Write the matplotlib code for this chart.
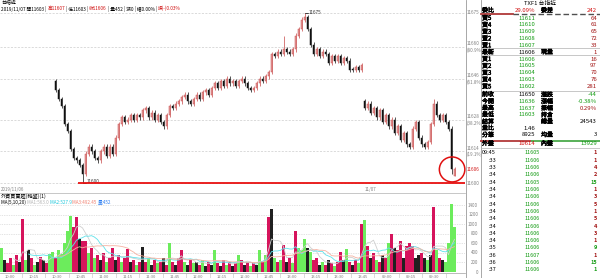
import numpy as np
import pandas as pd
import matplotlib
matplotlib.use("Agg")
import matplotlib.pyplot as plt
import matplotlib.transforms as mtransforms
import matplotlib.patheffects as pe
from matplotlib.patches import Ellipse

plt.rcParams['font.family'] = ['Noto Sans CJK TC', 'DejaVu Sans']

W, H = 600, 278

# ---- candles (one bar per 3px column), first bar index 18 ----
first_bar = 18
open_first = 11645
closes = [
    11641, 11637, 11634, 11626, 11623, 11615, 11611, 11610, 11608, 11604,
    11613, 11616, 11614, 11611, 11610, 11614, 11616, 11612, 11616, 11613,
    11620, 11626, 11629, 11627, 11628, 11630, 11628, 11630, 11629, 11632,
    11633, 11629, 11631, 11628, 11630, 11627, 11625, 11630, 11634, 11633,
    11635, 11636, 11638, 11639, 11636, 11635, 11637, 11639, 11637, 11640,
    11641, 11639, 11642, 11644, 11642, 11645, 11643, 11646, 11644, 11645,
    11643, 11645, 11646, 11644, 11642, 11641, 11642, 11644, 11646, 11645,
    11647, 11649, 11657, 11656, 11658, 11657, 11659, 11658, 11657, 11659,
    11665, 11668, 11672, 11673, 11668, 11661, 11657, 11659, 11656, 11658,
    11657, 11653, 11656, 11654, 11656, 11653, 11655, 11654, 11650, 11650,
    11651, 11650, 11652, 11633, 11635, 11631, 11633, 11629, 11632, 11627,
    11630, 11625, 11628, 11622, 11625, 11619, 11622, 11617, 11616, 11624,
    11627, 11620, 11617, 11616, 11618, 11626, 11635, 11630, 11628, 11630,
    11627, 11624, 11606, 11606,
]
open_fix = {121: 11636, 151: 11603}
high_fix = {27: 11609, 94: 11665, 101: 11675, 144: 11637, 151: 11607}
low_fix = {27: 11600, 150: 11604, 151: 11603}

# ---- volume bars (index 0..151) ----
volumes = [
    500, 250, 180, 300, 150, 350, 200, 1100, 250, 470,
    300, 150, 200, 320, 250, 180, 380, 420, 300, 450,
    380, 600, 850, 1170, 950, 1150, 700, 640, 640, 400,
    500, 300, 350, 250, 400, 200, 300, 500, 250, 350,
    200, 300, 480, 200, 250, 150, 200, 530, 200, 300,
    150, 250, 180, 200, 300, 150, 600, 200, 150, 300,
    450, 200, 150, 250, 180, 200, 150, 250, 120, 200,
    150, 450, 180, 120, 250, 150, 200, 120, 180, 350,
    250, 150, 200, 120, 180, 150, 450, 200, 350, 1140,
    1310, 300, 200, 250, 570, 200, 300, 180, 850, 500,
    450, 680, 500, 420, 250, 300, 150, 200, 150, 250,
    180, 120, 200, 420, 250, 480, 200, 150, 250, 180,
    1000, 1080, 550, 300, 400, 250, 200, 350, 300, 600,
    790, 500, 450, 650, 300, 550, 600, 550, 300, 350,
    400, 300, 250, 350, 1360, 450, 300, 250, 200, 600,
    1420, 950,
]
vol_dirs = ("gkrrgrkrgk" "rgkrkrggrg" "ggggrrkrrg" "rgrkrgrrkr" "grrkrgrkrg"
            "krgrkrgrkr" "rgkrgkrgkr" "kgrkrgrkrg" "rkrgrkgrgr" "kgrgrkrgrg"
            "ggkgrrkgrk" "rgrrkgrkrg" "rgrkrgrkrg" "rkrrkrrrkk" "rkgkrgrkgg" "gg")

fib_levels = [11675, 11660, 11646, 11628, 11614, 11600]
fib_pcts = ["", "(80.9%)", "(61.8%)", "(38.2%)", "(19.1%)", ""]
vol_ticks = [0, 200, 400, 600, 800, 1000, 1200, 1400]
time_labels = ["10:00", "10:15", "10:30", "10:45", "11:00", "11:15", "11:30", "11:45",
               "12:00", "12:15", "12:30", "12:45", "13:00", "13:15", "13:30", "13:45",
               "09:00", "09:15", "09:30"]

book_labels = ["賣5", "賣4", "賣3", "賣2", "賣1", "最新", "買1", "買2", "買3", "買4", "買5"]
book_prices = ["11611", "11610", "11609", "11608", "11607", "11606",
               "11606", "11605", "11604", "11603", "11602"]
book_sizes = ["64", "61", "65", "72", "33", "1", "16", "97", "70", "76", "281"]

stat_left = ["前收", "今開", "最高", "最低", "結算", "量比", "分筆", "外盤"]
stat_left_val = ["11650", "11636", "11637", "11603", "", "1.46", "8925", "10614"]
stat_right = ["漲跌", "漲幅", "振幅", "持倉", "總量", "", "均量", "內盤"]
stat_right_val = ["-44", "-0.38%", "0.29%", "", "24543", "", "3", "13929"]

tick_times = ["09:45", ":33", ":33", ":34", ":34", ":34", ":34", ":34", ":34",
              ":34", ":34", ":34", ":34", ":35", ":36", ":36", ":37"]
tick_prices = ["11605", "11606", "11606", "11606", "11605", "11606", "11606", "11606",
               "11606", "11606", "11606", "11606", "11606", "11606", "11607", "11606", "11606"]
tick_sizes = ["1", "1", "4", "2", "15", "1", "3", "5", "1", "5", "4", "3", "1", "9", "1", "15", "1"]
tick_side = "rrrrgrrrrrrrrgrgg"

RED = '#d01010'
DRED = '#a01010'
GREEN = '#109a10'
GRAY = '#808080'
BOLD = [pe.withStroke(linewidth=0.35, foreground='k')]

fig = plt.figure(figsize=(W / 100, H / 100), dpi=100)


def px_axes(x0, y0, x1, y1):
    return fig.add_axes([x0 / W, 1 - y1 / H, (x1 - x0) / W, (y1 - y0) / H])


# ---------------- price panel ----------------
ax = px_axes(0, 10, 465, 186)
x = np.arange(first_bar, first_bar + len(closes))
opens = [open_first] + closes[:-1]
opens = [open_fix.get(k, o) for k, o in zip(x, opens)]
highs = [high_fix.get(k, max(o, c) + 1) for k, o, c in zip(x, opens, closes)]
lows = [low_fix.get(k, min(o, c) - 1) for k, o, c in zip(x, opens, closes)]
opens = np.array(opens); closes_a = np.array(closes)
highs = np.array(highs); lows = np.array(lows)

up = closes_a > opens
edge = np.where(up, '#c84848', '#101010')
face = np.where(up, '#f0c0c0', '#101010')
ax.vlines(x, lows, highs, colors=edge, lw=0.5, zorder=2)
ax.bar(x, np.maximum(np.abs(closes_a - opens), 0.3), bottom=np.minimum(opens, closes_a),
       width=0.6, color=face, edgecolor=edge, linewidth=0.35, zorder=3)

for lv in fib_levels:
    ax.axhline(lv, color='#cccccc', lw=0.5, ls=(0, (3, 2)), zorder=0)

ax.set_xlim(-0.5, 154.5)
ax.set_ylim(11598.7, 11676.3)
ax.set_xticks([]); ax.set_yticks([])
for s in ax.spines.values():
    s.set_visible(False)

trans = mtransforms.blended_transform_factory(ax.transAxes, ax.transData)
for lv, pc in zip(fib_levels, fib_pcts):
    if pc:
        ax.text(1.004, lv + 0.3, str(lv), transform=trans, fontsize=3.3, color=GRAY, va='bottom', clip_on=False)
        ax.text(1.004, lv - 0.3, pc, transform=trans, fontsize=3.3, color=GRAY, va='top', clip_on=False)
    else:
        ax.text(1.004, lv, str(lv), transform=trans, fontsize=3.3, color=GRAY, va='center', clip_on=False)
ax.text(1.004, closes[-1], str(closes[-1]), transform=trans, fontsize=3.3, color=RED, va='center', clip_on=False)

k_hi = x[np.argmax(highs)]
k_lo = x[np.argmin(lows)]
ax.plot([k_hi + 0.3, k_hi + 1.3], [highs.max()] * 2, color='k', lw=0.5)
ax.text(k_hi + 1.5, highs.max(), str(highs.max()), fontsize=3.3, color='#303030', va='center')
ax.plot([k_lo + 0.3, k_lo + 1.3], [lows.min()] * 2, color='k', lw=0.5)
ax.text(k_lo + 1.5, lows.min() + 0.6, str(lows.min()), fontsize=3.3, color='#303030', va='center')
ax.hlines(lows.min(), k_lo - 1.5, 154.5, color='#e81010', lw=1.3, zorder=4)

ax.add_patch(Ellipse((x[-1] - 0.8, closes[-1]), width=8.5, height=11, fill=False,
                     ec='#e01010', lw=1.1, zorder=5, clip_on=False))

# ---------------- volume panel ----------------
av = px_axes(0, 200, 465, 272)
xv = np.arange(len(volumes))
cmap = {'r': '#d6145c', 'g': '#6cec5c', 'k': '#202020'}
av.bar(xv, volumes, width=0.7, color=[cmap[c] for c in vol_dirs], zorder=2)
vs = pd.Series(volumes)
av.plot(xv, vs.rolling(5).mean(), color='#cfcfcf', lw=0.6, zorder=3)
av.plot(xv, vs.rolling(10).mean(), color='#5ee2ea', lw=0.6, zorder=3)
av.plot(xv, vs.rolling(20).mean(), color='#f6b2a2', lw=0.6, zorder=3)
for t in vol_ticks[1:]:
    av.axhline(t, color='#c8c8c8', lw=0.5, ls=(0, (1, 1.5)), zorder=0)
av.set_xlim(-0.5, 154.5)
av.set_ylim(0, 1506)
av.set_xticks([]); av.set_yticks([])
for s in av.spines.values():
    s.set_visible(False)
tv = mtransforms.blended_transform_factory(av.transAxes, av.transData)
for t in vol_ticks:
    av.text(1.028, t, str(t), transform=tv, fontsize=3.2, color=GRAY, va='center', ha='right', clip_on=False)

# ---------------- overlay: text, table, frames ----------------
ov = fig.add_axes([0, 0, 1, 1], zorder=10)
ov.set_xlim(0, W); ov.set_ylim(H, 0); ov.axis('off'); ov.patch.set_alpha(0)
renderer = fig.canvas.get_renderer()


def seq_text(x0, y, parts, size):
    for s, c in parts:
        t = ov.text(x0, y, s, color=c, fontsize=size, va='center', ha='left')
        x0 += t.get_window_extent(renderer=renderer).width


def label(x0, y, s):
    ov.text(x0, y, s, fontsize=FS, va='center', path_effects=BOLD)


ov.text(1, 3, "台指近", fontsize=3.6, va='center')
seq_text(1, 8.5, [("2019/11/07 開11603 | ", 'k'), ("高11607", RED), (" | 低11603 | ", 'k'),
                  ("收11606", RED), (" | 量452 | 漲0 | 幅0.00% | ", 'k'), ("振(-)0.03%", RED)], 3.4)

ov.text(1, 189.5, "2019/11/06", fontsize=3.2, color=GRAY, va='center')
ov.text(370, 189.5, "11/07", fontsize=3.2, color=GRAY, va='center', ha='center')
ov.plot([0, 465], [192.5, 192.5], color='#b0b0b0', lw=0.5)
ov.text(1, 196.5, "外資買賣超(韓盤)(1)", fontsize=3.7, va='center')
seq_text(1, 202, [("MA(5,10,20) ", 'k'), ("MA1:563.0 ", '#b4b4b4'), ("MA2:527.9 ", '#20c8dc'),
                  ("MA3:492.45 ", '#f08070'), ("量:452", '#2a7cf0')], 3.3)

ov.plot([0, 465], [272.5, 272.5], color='#a0a0a0', lw=0.5)
for j, lab in enumerate(time_labels):
    px = 10 + 23.5 * j if j < 16 else 387 + 23.5 * (j - 16)
    ov.text(px, 276.5, lab, fontsize=3.0, color=GRAY, ha='center', va='center')
    ov.plot([px + 11.7, px + 11.7], [273, 278], color='#c0c0c0', lw=0.4)

ov.plot([465.5, 465.5], [0, H], color='#9a9a9a', lw=0.6)
ov.plot([480.5, 480.5], [0, H], color='#9a9a9a', lw=0.6)

# order book
FS = 4.3
ov.text(540, 3.5, "TXF1 台指近", fontsize=4.2, ha='center', va='center')
label(482, 10, "委比")
ov.text(535, 10, "29.09%", fontsize=FS, color=RED, ha='right', va='center')
label(541, 10, "委差")
ov.text(597, 10, "242", fontsize=FS, color=RED, ha='right', va='center')
ov.plot([481, 513], [14, 14], color='#b03838', lw=1.3)
ov.plot([513, 600], [14, 14], color='#505050', lw=1.0, ls=(0, (4, 2)))

for i, (lab, pr, sz) in enumerate(zip(book_labels, book_prices, book_sizes)):
    y = 18 + 6.85 * i
    label(482, y, lab)
    ov.text(535, y, pr, fontsize=FS, color='k' if lab == "最新" else GREEN, ha='right', va='center')
    ov.text(597, y, sz, fontsize=FS, color=DRED, ha='right', va='center')
    if lab == "最新":
        label(541, y, "現量")
ov.plot([481, 600], [48.3, 48.3], color='#b0b0b0', lw=0.5)
ov.plot([481, 600], [55.3, 55.3], color='#b0b0b0', lw=0.5)
ov.plot([481, 600], [90.8, 90.8], color='#b0b0b0', lw=0.5)

left_cols = ['k', GREEN, GREEN, GREEN, 'k', 'k', 'k', RED]
right_cols = [GREEN, GREEN, DRED, 'k', 'k', 'k', 'k', GREEN]
for i in range(len(stat_left)):
    y = 94.5 + 6.75 * i + (1.5 if i == 7 else 0)
    label(482, y, stat_left[i])
    ov.text(535, y, stat_left_val[i], fontsize=FS, color=left_cols[i], ha='right', va='center')
    label(541, y, stat_right[i])
    ov.text(597, y, stat_right_val[i], fontsize=FS, color=right_cols[i], ha='right', va='center')

buy = int(stat_left_val[7]); sell = int(stat_right_val[7])
split = 481 + 119 * buy / (buy + sell)
ov.plot([481, split], [140.5, 140.5], color='#b84848', lw=1.4)
ov.plot([split, 600], [140.5, 140.5], color='#58b058', lw=1.4)
ov.plot([481, 600], [147.8, 147.8], color='#b0b0b0', lw=0.5)

for j in range(len(tick_times)):
    y = 153 + 7.3 * j
    ov.text(496, y, tick_times[j], fontsize=4.0, ha='right', va='center')
    ov.text(540, y, tick_prices[j], fontsize=4.0, color=GREEN, ha='right', va='center')
    ov.text(597, y, tick_sizes[j], fontsize=4.0, color=DRED if tick_side[j] == 'r' else GREEN,
            ha='right', va='center', fontweight='bold')

fig.savefig("out.png", dpi=100)
